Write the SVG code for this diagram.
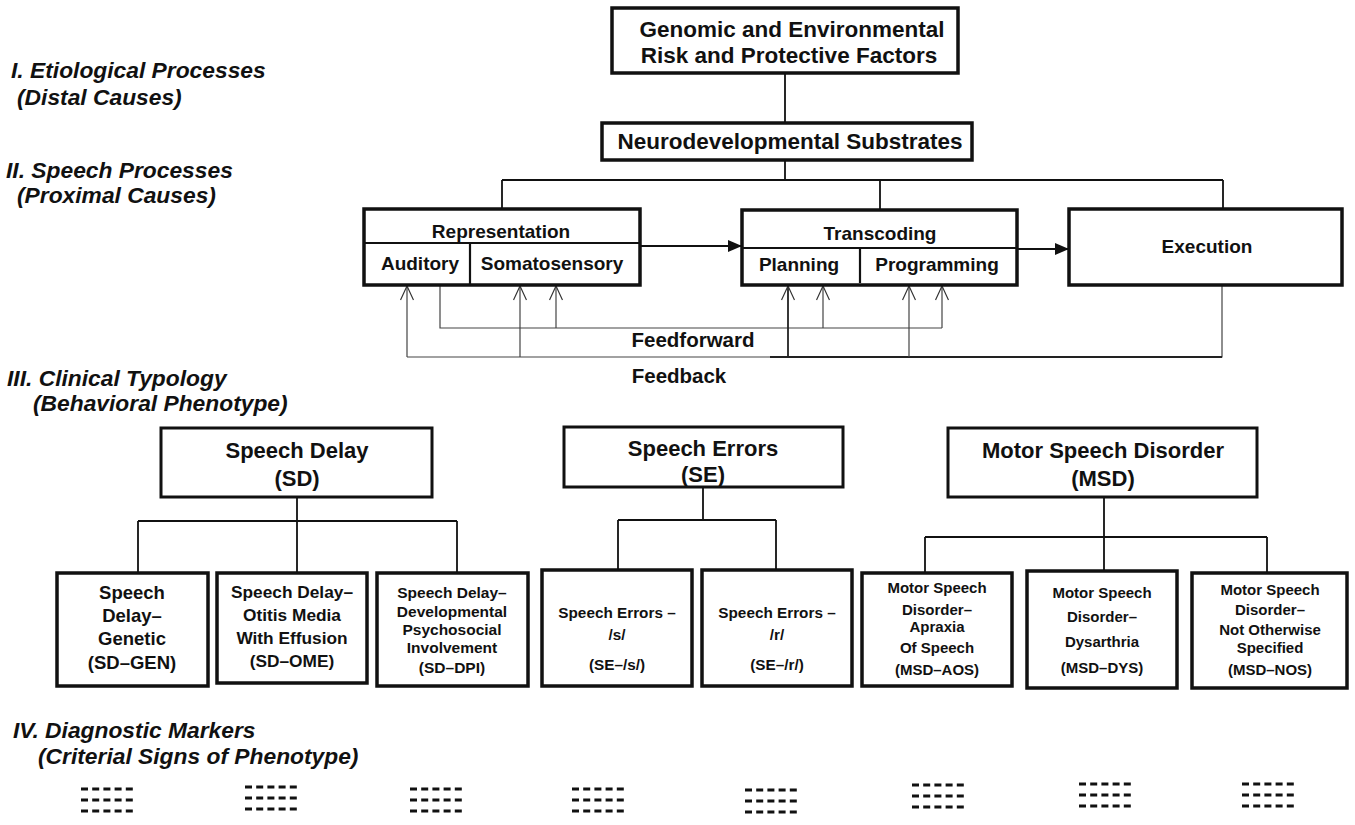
<svg xmlns="http://www.w3.org/2000/svg" width="1355" height="825" viewBox="0 0 1355 825">
<defs>
<style>
text{font-family:"Liberation Sans",Arial,sans-serif;font-weight:bold;fill:#111}
.lvl{font-style:italic;font-size:22.8px}
.box{fill:#fff;stroke:#111;stroke-width:3.5}
.box3{fill:#fff;stroke:#111;stroke-width:3}
.div{stroke:#111;stroke-width:2.2;fill:none}
.conn{stroke:#111;stroke-width:1.8;fill:none}
.fb{stroke:#444;stroke-width:1.2;fill:none}
.fbk{stroke:#222;stroke-width:1.8;fill:none}
.mk{stroke:#111;stroke-width:2.8;stroke-dasharray:7 4.2;fill:none}
.t1{font-size:22.5px;text-anchor:middle}
.t2{font-size:19px;text-anchor:middle}
.t3{font-size:22px;text-anchor:middle}
.gen{font-size:18.5px;text-anchor:middle}
.ome{font-size:17.3px;text-anchor:middle}
.dpi{font-size:15.5px;text-anchor:middle}
.se{font-size:15.3px;text-anchor:middle}
.msd{font-size:15px;text-anchor:middle}
</style>
<marker id="open" viewBox="0 0 16 14" refX="15" refY="7" markerWidth="16" markerHeight="14" markerUnits="userSpaceOnUse" orient="auto">
<path d="M1,0.5 L15,7 L1,13.5" fill="none" stroke="#333" stroke-width="1.2"/>
</marker>
<marker id="solid" viewBox="0 0 14 12" refX="14" refY="6" markerWidth="14" markerHeight="12" markerUnits="userSpaceOnUse" orient="auto">
<path d="M0,0 L14,6 L0,12 z" fill="#111"/>
</marker>
</defs>
<rect width="1355" height="825" fill="#fff"/>

<g id="level-labels">
<text class="lvl" x="11" y="78">I. Etiological Processes</text>
<text class="lvl" x="17" y="105">(Distal Causes)</text>
<text class="lvl" x="6" y="178">II. Speech Processes</text>
<text class="lvl" x="17" y="203">(Proximal Causes)</text>
<text class="lvl" x="7" y="386">III. Clinical Typology</text>
<text class="lvl" x="33" y="411">(Behavioral Phenotype)</text>
<text class="lvl" x="13" y="738">IV. Diagnostic Markers</text>
<text class="lvl" x="38" y="764">(Criterial Signs of Phenotype)</text>
</g>

<g id="connectors">
<path class="conn" d="M785,73 V123 M785,160 V180 M502,180 H1223 M502,180 V209 M880,180 V210 M1223,180 V208"/>
<line class="conn" x1="640" y1="246" x2="742" y2="246" marker-end="url(#solid)"/>
<line class="conn" x1="1017" y1="249" x2="1069" y2="249" marker-end="url(#solid)"/>
<!-- feedforward -->
<path class="fb" d="M440,285 V328 H942"/>
<line class="fb" x1="556" y1="328" x2="556" y2="286" marker-end="url(#open)"/>
<line class="fb" x1="823" y1="328" x2="823" y2="286" marker-end="url(#open)"/>
<line class="fb" x1="942" y1="328" x2="942" y2="286" marker-end="url(#open)"/>
<!-- feedback -->
<path class="fb" d="M1222,285 V357 H407"/>
<path class="fbk" d="M770,357 H1222"/>
<line class="fb" x1="407" y1="357" x2="407" y2="286" marker-end="url(#open)"/>
<line class="fb" x1="520" y1="357" x2="520" y2="286" marker-end="url(#open)"/>
<line class="fbk" x1="788" y1="357" x2="788" y2="286" marker-end="url(#open)"/>
<line class="fb" x1="909" y1="357" x2="909" y2="286" marker-end="url(#open)"/>
<!-- level III trees -->
<path class="conn" d="M297,497 V521 M138,521 H457 M138,521 V573 M297,521 V573 M457,521 V573"/>
<path class="conn" d="M703,487 V520 M618,520 H776 M618,520 V570 M776,520 V570"/>
<path class="conn" d="M1104,497 V537 M925,537 H1267 M925,537 V573 M1104,537 V571 M1267,537 V573"/>
</g>

<g id="n-genomic">
<rect class="box" x="612" y="8" width="346" height="65"/>
<text class="t1" x="792" y="37">Genomic and Environmental</text>
<text class="t1" x="789" y="63">Risk and Protective Factors</text>
</g>

<g id="n-neuro">
<rect class="box" x="602" y="123" width="370" height="37"/>
<text class="t1" x="790" y="149">Neurodevelopmental Substrates</text>
</g>

<g id="n-representation">
<rect class="box" x="364" y="209" width="276" height="76"/>
<path class="div" d="M364,243 H640 M470,243 V285"/>
<text class="t2" x="501" y="238">Representation</text>
<text class="t2" x="420" y="270">Auditory</text>
<text class="t2" x="552" y="270">Somatosensory</text>
</g>

<g id="n-transcoding">
<rect class="box" x="742" y="210" width="275" height="75"/>
<path class="div" d="M742,248 H1017 M860,248 V283"/>
<text class="t2" x="880" y="240">Transcoding</text>
<text class="t2" x="799" y="271">Planning</text>
<text class="t2" x="937" y="271">Programming</text>
</g>

<g id="n-execution">
<rect class="box" x="1069" y="209" width="273" height="76"/>
<text class="t2" x="1207" y="253">Execution</text>
</g>

<g id="n-feedforward-label">
<text x="693" y="347" style="font-size:20.5px;text-anchor:middle">Feedforward</text>
</g>
<g id="n-feedback-label">
<text x="679" y="383" style="font-size:20.5px;text-anchor:middle">Feedback</text>
</g>

<g id="n-sd">
<rect class="box3" x="161" y="428" width="271" height="69"/>
<text class="t3" x="297" y="458">Speech Delay</text>
<text class="t3" x="297" y="486">(SD)</text>
</g>
<g id="n-se">
<rect class="box3" x="564" y="427" width="279" height="60"/>
<text class="t3" x="703" y="456">Speech Errors</text>
<text class="t3" x="703" y="482">(SE)</text>
</g>
<g id="n-msd">
<rect class="box3" x="948" y="428" width="309" height="69"/>
<text class="t3" x="1103" y="458">Motor Speech Disorder</text>
<text class="t3" x="1103" y="486">(MSD)</text>
</g>

<g id="n-sd-gen">
<rect class="box" x="57" y="573" width="151" height="113"/>
<text class="gen" x="132" y="599">Speech</text>
<text class="gen" x="132" y="622">Delay–</text>
<text class="gen" x="132" y="645">Genetic</text>
<text class="gen" x="132" y="669">(SD–GEN)</text>
</g>
<g id="n-sd-ome">
<rect class="box" x="217" y="573" width="150" height="110"/>
<text class="ome" x="292" y="598">Speech Delay–</text>
<text class="ome" x="292" y="621">Otitis Media</text>
<text class="ome" x="292" y="644">With Effusion</text>
<text class="ome" x="292" y="667">(SD–OME)</text>
</g>
<g id="n-sd-dpi">
<rect class="box" x="377" y="573" width="151" height="113"/>
<text class="dpi" x="452" y="598">Speech Delay–</text>
<text class="dpi" x="452" y="617">Developmental</text>
<text class="dpi" x="452" y="635">Psychosocial</text>
<text class="dpi" x="452" y="653">Involvement</text>
<text class="dpi" x="452" y="673">(SD–DPI)</text>
</g>
<g id="n-se-s">
<rect class="box" x="542" y="570" width="150" height="116"/>
<text class="se" x="617" y="618">Speech Errors –</text>
<text class="se" x="617" y="640">/s/</text>
<text class="se" x="617" y="670">(SE–/s/)</text>
</g>
<g id="n-se-r">
<rect class="box" x="702" y="570" width="150" height="116"/>
<text class="se" x="777" y="618">Speech Errors –</text>
<text class="se" x="777" y="640">/r/</text>
<text class="se" x="777" y="670">(SE–/r/)</text>
</g>
<g id="n-msd-aos">
<rect class="box" x="862" y="573" width="150" height="113"/>
<text class="msd" x="937" y="593">Motor Speech</text>
<text class="msd" x="937" y="615">Disorder–</text>
<text class="msd" x="937" y="632">Apraxia</text>
<text class="msd" x="937" y="653">Of Speech</text>
<text class="msd" x="937" y="675">(MSD–AOS)</text>
</g>
<g id="n-msd-dys">
<rect class="box" x="1027" y="571" width="150" height="117"/>
<text class="msd" x="1102" y="598">Motor Speech</text>
<text class="msd" x="1102" y="622">Disorder–</text>
<text class="msd" x="1102" y="647">Dysarthria</text>
<text class="msd" x="1102" y="673">(MSD–DYS)</text>
</g>
<g id="n-msd-nos">
<rect class="box" x="1192" y="573" width="155" height="115"/>
<text class="msd" x="1270" y="595">Motor Speech</text>
<text class="msd" x="1270" y="615">Disorder–</text>
<text class="msd" x="1270" y="635">Not Otherwise</text>
<text class="msd" x="1270" y="653">Specified</text>
<text class="msd" x="1270" y="675">(MSD–NOS)</text>
</g>

<g id="markers">
<path class="mk" d="M81,789 h52 M81,800 h52 M81,811 h52"/>
<path class="mk" d="M245,787 h52 M245,798 h52 M245,809 h52"/>
<path class="mk" d="M410,789 h52 M410,800 h52 M410,811 h52"/>
<path class="mk" d="M572,789 h52 M572,800 h52 M572,811 h52"/>
<path class="mk" d="M745,790 h52 M745,801 h52 M745,812 h52"/>
<path class="mk" d="M912,785 h52 M912,796 h52 M912,807 h52"/>
<path class="mk" d="M1079,784 h52 M1079,795 h52 M1079,806 h52"/>
<path class="mk" d="M1242,784 h52 M1242,795 h52 M1242,806 h52"/>
</g>
</svg>
